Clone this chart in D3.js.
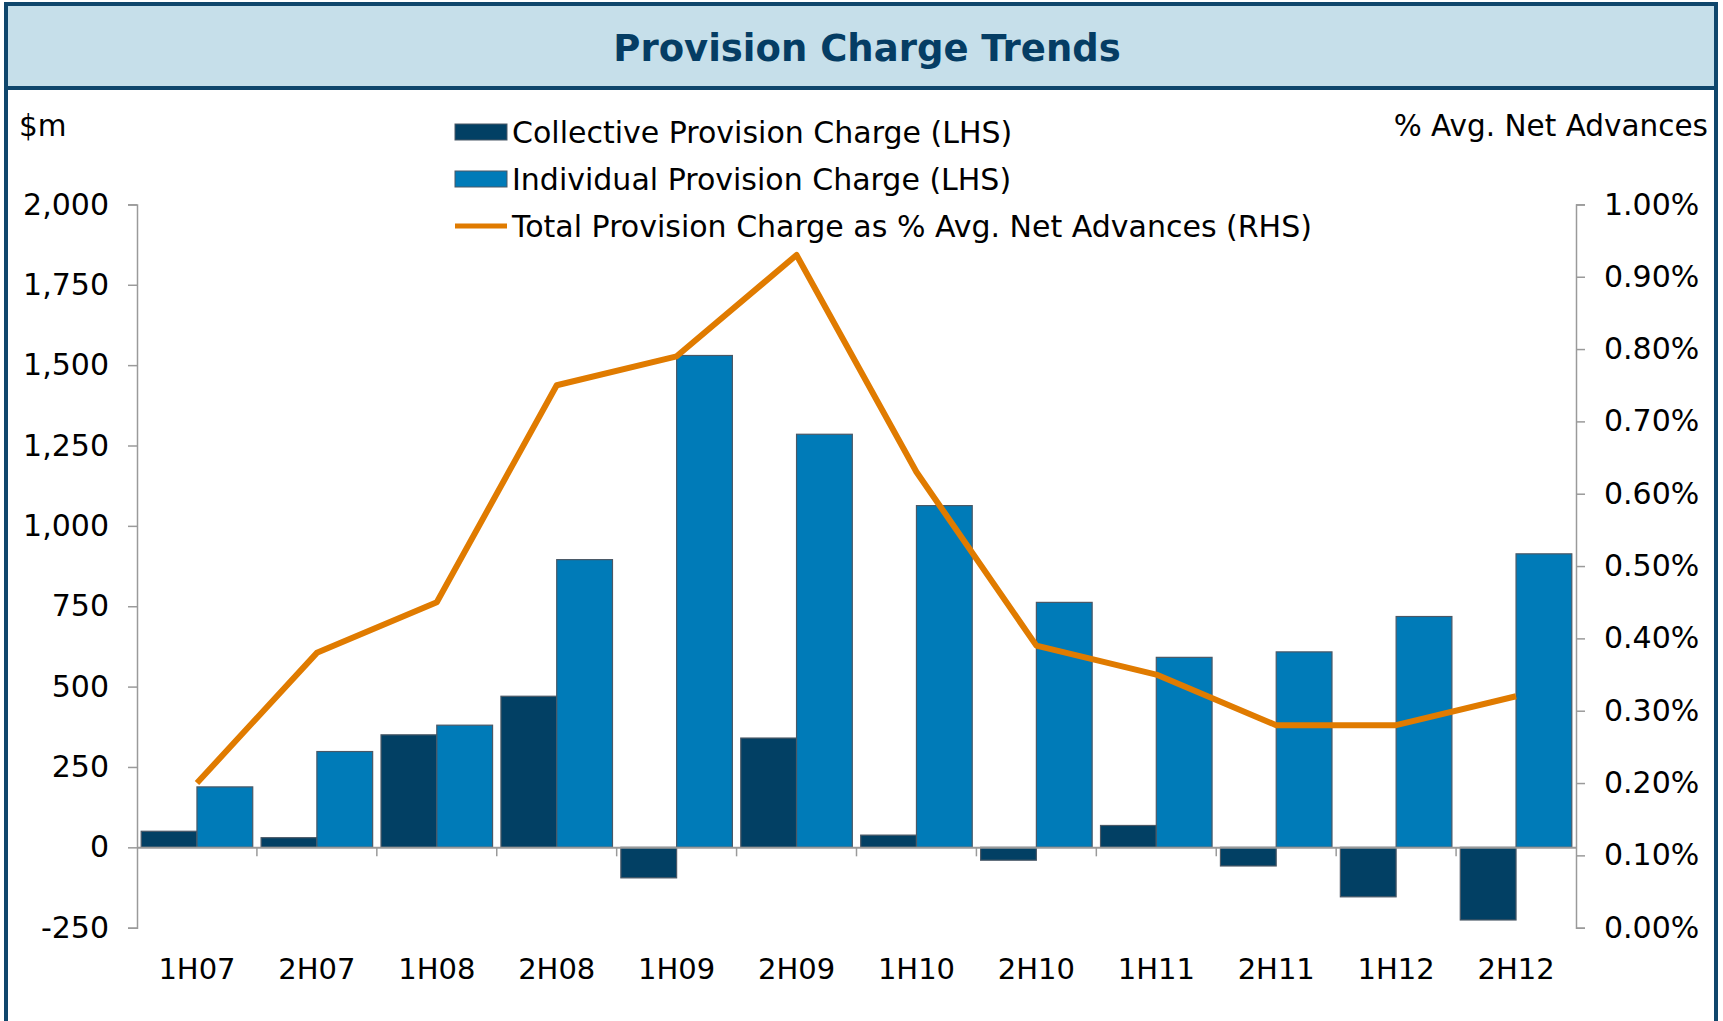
<!DOCTYPE html>
<html><head><meta charset="utf-8">
<script src="https://cdn.jsdelivr.net/npm/d3@7"></script>
<style>
body{margin:0;background:#fff}
svg{display:block}
text{font-family:"DejaVu Sans",Verdana,sans-serif;fill:#000}
</style>
</head><body>
<svg id="c" width="1723" height="1021"></svg>
<script>
const categories = ["1H07","2H07","1H08","2H08","1H09","2H09","1H10","2H10","1H11","2H11","1H12","2H12"];
const collective = [50,30,350,470,-95,340,38,-40,68,-58,-154,-226];
const individual = [188,298,380,895,1530,1285,1063,762,591,608,718,913];
const totalPct = [0.20,0.38,0.45,0.75,0.79,0.93,0.63,0.39,0.35,0.28,0.28,0.32];
const leftTicks = [-250,0,250,500,750,1000,1250,1500,1750,2000];
const rightTicks = [0,0.1,0.2,0.3,0.4,0.5,0.6,0.7,0.8,0.9,1.0];
const seriesNames = ["Collective Provision Charge (LHS)","Individual Provision Charge (LHS)","Total Provision Charge as % Avg. Net Advances (RHS)"];
const title = "Provision Charge Trends";
const leftTitle = "$m";
const rightTitle = "% Avg. Net Advances";

const C_COLL = "#024064", C_IND = "#007bb8", C_LINE = "#e07b00", C_AXIS = "#9a9a9a", C_FRAME = "#0f466c";

const svg = d3.select("#c");
// frame & title band
svg.append("rect").attr("x",6).attr("y",4).attr("width",1710).attr("height",84).attr("fill","#c6dfea");
svg.append("line").attr("x1",6).attr("x2",1716).attr("y1",88).attr("y2",88).attr("stroke",C_FRAME).attr("stroke-width",4);
svg.append("rect").attr("x",6).attr("y",4).attr("width",1710).attr("height",1040).attr("fill","none").attr("stroke",C_FRAME).attr("stroke-width",4);
svg.append("text").attr("x",867).attr("y",48).attr("text-anchor","middle").attr("dominant-baseline","central")
  .style("font-weight","bold").style("font-size","37px").style("fill","#053d64").text(title);

const x = d3.scaleBand().domain(categories).range([137,1576]).paddingInner(0).paddingOuter(0);
const xs = d3.scaleBand().domain(["c","i"]).range([0,x.bandwidth()]).paddingInner(0).paddingOuter(0.075);
const y = d3.scaleLinear().domain([-250,2000]).range([927.7,204.4]);
const yR = d3.scaleLinear().domain([0,1]).range([927.7,204.4]);

// left axis
const gL = svg.append("g").attr("transform","translate(137,0)")
  .call(d3.axisLeft(y).tickValues(leftTicks).tickSize(9).tickSizeOuter(9).tickPadding(19)
    .tickFormat(d => d3.format(",")(d).replace("\u2212","-")));
// right axis
const gR = svg.append("g").attr("transform","translate(1576,0)")
  .call(d3.axisRight(yR).tickValues(rightTicks).tickSize(9).tickSizeOuter(9).tickPadding(19)
    .tickFormat(d => d.toFixed(2)+"%"));
[gL,gR].forEach(g=>{
  g.selectAll("path,line").attr("stroke",C_AXIS).attr("stroke-width",1.5);
  g.selectAll("text").style("font-size","30px").attr("fill","#000");
});

// bars
const data = categories.map((c,i)=>({c, coll:collective[i], ind:individual[i], pct:totalPct[i]}));
const bars = svg.append("g");
bars.selectAll("rect.coll").data(data).join("rect").attr("class","coll")
  .attr("x",d=>x(d.c)+xs("c")).attr("width",xs.bandwidth())
  .attr("y",d=>y(Math.max(0,d.coll))).attr("height",d=>Math.abs(y(d.coll)-y(0)))
  .attr("fill",C_COLL).attr("stroke","#4a5866").attr("stroke-width",1.2);
bars.selectAll("rect.ind").data(data).join("rect").attr("class","ind")
  .attr("x",d=>x(d.c)+xs("i")).attr("width",xs.bandwidth())
  .attr("y",d=>y(Math.max(0,d.ind))).attr("height",d=>Math.abs(y(d.ind)-y(0)))
  .attr("fill",C_IND).attr("stroke","#4a5866").attr("stroke-width",1.2);

// x axis at zero
const gX = svg.append("g").attr("transform",`translate(0,${y(0)})`)
  .call(d3.axisBottom(x).tickSize(0).tickPadding(111));
gX.select("path.domain").attr("stroke",C_AXIS).attr("stroke-width",2);
gX.selectAll("text").style("font-size","29px").attr("fill","#000");
gX.selectAll("g.sep").data(categories.slice(1)).join("line").attr("class","sep")
  .attr("x1",d=>x(d)).attr("x2",d=>x(d)).attr("y1",0).attr("y2",9)
  .attr("stroke",C_AXIS).attr("stroke-width",1.5);

// line
const line = d3.line().x(d=>x(d.c)+x.bandwidth()/2).y(d=>yR(d.pct));
svg.append("path").datum(data).attr("d",line).attr("fill","none")
  .attr("stroke",C_LINE).attr("stroke-width",6).attr("stroke-linejoin","round");

// axis titles
svg.append("text").attr("x",19).attr("y",126).attr("dominant-baseline","central").style("font-size","29.5px").text(leftTitle);
svg.append("text").attr("x",1708).attr("y",126).attr("text-anchor","end").attr("dominant-baseline","central").style("font-size","29.5px").text(rightTitle);

// legend
const lg = svg.append("g");
const rowsY = [132,179,226];
lg.append("rect").attr("x",455).attr("y",rowsY[0]-8).attr("width",52).attr("height",16).attr("fill",C_COLL).attr("stroke","#4a5866");
lg.append("rect").attr("x",455).attr("y",rowsY[1]-8).attr("width",52).attr("height",16).attr("fill",C_IND).attr("stroke","#4a5866");
lg.append("line").attr("x1",455).attr("x2",507).attr("y1",rowsY[2]).attr("y2",rowsY[2]).attr("stroke",C_LINE).attr("stroke-width",5);
seriesNames.forEach((n,i)=>{
  lg.append("text").attr("x",512).attr("y",rowsY[i]).attr("dominant-baseline","central").style("font-size","30px").text(n);
});
</script>
</body></html>
